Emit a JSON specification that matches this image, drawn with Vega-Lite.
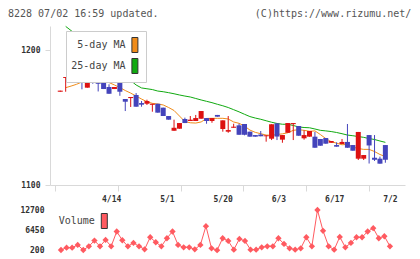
{
  "$schema": "https://vega.github.io/schema/vega-lite/v6.json",
  "padding": {"left": 8, "top": 8, "right": 5, "bottom": 5},
  "bounds": "flush",
  "spacing": 25,
  "background": "white",
  "title": {
    "text": "8228 07/02 16:59 updated.\u00a0\u00a0\u00a0\u00a0\u00a0\u00a0\u00a0\u00a0\u00a0\u00a0\u00a0\u00a0\u00a0\u00a0\u00a0\u00a0(C)https://www.rizumu.net/",
    "anchor": "start", "frame": "group", "dx": -42, "baseline": "alphabetic", "offset": -2.5,
    "font": "DejaVu Sans Mono", "fontSize": 10, "fontWeight": "normal", "color": "#555555"
  },
  "config": {
    "view": {"stroke": null},
    "axis": {"labelFlush": false, "grid": false, "format": "d", "labelFont": "DejaVu Sans Mono", "labelFontSize": 8, "labelFontWeight": "bold", "labelColor": "#333333", "domainColor": "#d9d9d9", "tickColor": "#d9d9d9"}
  },
  "resolve": {"scale": {"fill": "independent"}, "legend": {"fill": "independent"}},
  "datasets": {
    "ohlc": [
      {"i": -1, "o": 1169.1, "c": 1169.9, "h": 1169.9, "l": 1169.1, "m5": null, "m25": null, "v": null},
      {"i": 0, "o": 1179.3, "c": 1180.0, "h": 1180.0, "l": 1169.1, "m5": 1172.1, "m25": 1217.5, "v": 200},
      {"i": 1, "o": 1180.5, "c": 1176.5, "h": 1181.0, "l": 1176.0, "m5": 1173.3, "m25": 1214.4, "v": 935},
      {"i": 2, "o": 1179.3, "c": 1180.0, "h": 1180.0, "l": 1176.3, "m5": 1174.6, "m25": 1211.1, "v": 935},
      {"i": 3, "o": 1183.7, "c": 1179.5, "h": 1183.7, "l": 1170.9, "m5": 1176.3, "m25": 1207.8, "v": 1775},
      {"i": 4, "o": 1172.1, "c": 1180.0, "h": 1180.0, "l": 1172.1, "m5": 1177.3, "m25": 1204.4, "v": 200},
      {"i": 5, "o": 1180.0, "c": 1177.6, "h": 1180.0, "l": 1175.0, "m5": 1177.8, "m25": 1201.1, "v": 1355},
      {"i": 6, "o": 1178.3, "c": 1175.0, "h": 1178.5, "l": 1169.3, "m5": 1178.0, "m25": 1197.8, "v": 3140},
      {"i": 7, "o": 1177.0, "c": 1171.1, "h": 1178.3, "l": 1171.1, "m5": 1177.6, "m25": 1194.4, "v": 1355},
      {"i": 8, "o": 1172.6, "c": 1167.6, "h": 1174.6, "l": 1167.6, "m5": 1175.9, "m25": 1191.1, "v": 3350},
      {"i": 9, "o": 1171.1, "c": 1172.6, "h": 1172.6, "l": 1171.1, "m5": 1174.1, "m25": 1187.4, "v": 1355},
      {"i": 10, "o": 1175.6, "c": 1169.1, "h": 1175.6, "l": 1166.1, "m5": 1172.2, "m25": 1184.1, "v": 5975},
      {"i": 11, "o": 1163.7, "c": 1161.7, "h": 1163.7, "l": 1154.8, "m5": 1170.0, "m25": 1180.7, "v": 3245},
      {"i": 12, "o": 1164.4, "c": 1165.2, "h": 1165.2, "l": 1157.8, "m5": 1168.1, "m25": 1177.4, "v": 1355},
      {"i": 13, "o": 1166.7, "c": 1158.0, "h": 1168.1, "l": 1158.0, "m5": 1165.9, "m25": 1174.1, "v": 2405},
      {"i": 14, "o": 1160.7, "c": 1159.5, "h": 1162.2, "l": 1158.0, "m5": 1163.7, "m25": 1171.9, "v": 1355},
      {"i": 15, "o": 1160.2, "c": 1162.2, "h": 1163.2, "l": 1159.3, "m5": 1161.7, "m25": 1171.3, "v": 410},
      {"i": 16, "o": 1159.4, "c": 1160.2, "h": 1160.2, "l": 1154.3, "m5": 1160.5, "m25": 1170.7, "v": 4190},
      {"i": 17, "o": 1160.2, "c": 1153.6, "h": 1160.2, "l": 1153.6, "m5": 1160.0, "m25": 1169.6, "v": 2615},
      {"i": 18, "o": 1157.3, "c": 1151.1, "h": 1157.3, "l": 1151.1, "m5": 1159.3, "m25": 1169.1, "v": 1355},
      {"i": 19, "o": 1151.1, "c": 1148.4, "h": 1151.1, "l": 1148.4, "m5": 1157.4, "m25": 1168.4, "v": 3875},
      {"i": 20, "o": 1140.2, "c": 1142.4, "h": 1148.4, "l": 1140.2, "m5": 1155.2, "m25": 1167.6, "v": 5975},
      {"i": 21, "o": 1141.7, "c": 1145.9, "h": 1145.9, "l": 1141.7, "m5": 1151.1, "m25": 1166.7, "v": 1775},
      {"i": 22, "o": 1148.9, "c": 1145.9, "h": 1149.9, "l": 1145.9, "m5": 1147.0, "m25": 1165.9, "v": 1040},
      {"i": 23, "o": 1147.4, "c": 1148.4, "h": 1151.1, "l": 1147.4, "m5": 1146.1, "m25": 1165.2, "v": 1040},
      {"i": 24, "o": 1147.4, "c": 1149.6, "h": 1151.9, "l": 1147.4, "m5": 1145.9, "m25": 1164.1, "v": 410},
      {"i": 25, "o": 1149.1, "c": 1154.8, "h": 1154.8, "l": 1149.1, "m5": 1146.7, "m25": 1163.0, "v": 1775},
      {"i": 26, "o": 1149.6, "c": 1147.4, "h": 1149.6, "l": 1145.4, "m5": 1149.3, "m25": 1162.0, "v": 7655},
      {"i": 27, "o": 1147.4, "c": 1149.6, "h": 1149.6, "l": 1146.1, "m5": 1149.4, "m25": 1161.0, "v": 725},
      {"i": 28, "o": 1151.9, "c": 1150.6, "h": 1151.9, "l": 1150.6, "m5": 1149.4, "m25": 1159.8, "v": 150},
      {"i": 29, "o": 1141.5, "c": 1147.9, "h": 1147.9, "l": 1139.5, "m5": 1149.4, "m25": 1158.7, "v": 3875},
      {"i": 30, "o": 1139.5, "c": 1140.7, "h": 1151.1, "l": 1138.7, "m5": 1148.9, "m25": 1157.4, "v": 3035},
      {"i": 31, "o": 1142.4, "c": 1143.2, "h": 1145.4, "l": 1142.4, "m5": 1146.7, "m25": 1155.8, "v": 305},
      {"i": 32, "o": 1144.2, "c": 1137.2, "h": 1145.4, "l": 1137.2, "m5": 1145.7, "m25": 1154.2, "v": 3665},
      {"i": 33, "o": 1145.2, "c": 1137.2, "h": 1145.2, "l": 1136.8, "m5": 1143.7, "m25": 1152.4, "v": 3035},
      {"i": 34, "o": 1139.5, "c": 1135.8, "h": 1139.5, "l": 1135.8, "m5": 1140.7, "m25": 1150.7, "v": 305},
      {"i": 35, "o": 1137.0, "c": 1135.8, "h": 1137.0, "l": 1135.8, "m5": 1139.0, "m25": 1149.6, "v": 305},
      {"i": 36, "o": 1137.4, "c": 1136.1, "h": 1140.0, "l": 1136.1, "m5": 1138.0, "m25": 1148.7, "v": 1040},
      {"i": 37, "o": 1136.1, "c": 1136.8, "h": 1136.8, "l": 1132.1, "m5": 1137.0, "m25": 1147.6, "v": 1355},
      {"i": 38, "o": 1134.3, "c": 1145.0, "h": 1145.0, "l": 1133.3, "m5": 1136.8, "m25": 1146.5, "v": 1355},
      {"i": 39, "o": 1145.7, "c": 1135.9, "h": 1145.7, "l": 1133.3, "m5": 1137.4, "m25": 1145.6, "v": 3875},
      {"i": 40, "o": 1133.6, "c": 1137.0, "h": 1137.0, "l": 1131.3, "m5": 1137.9, "m25": 1145.0, "v": 2090},
      {"i": 41, "o": 1138.7, "c": 1145.9, "h": 1145.9, "l": 1138.7, "m5": 1138.7, "m25": 1145.0, "v": 725},
      {"i": 42, "o": 1145.1, "c": 1145.9, "h": 1145.9, "l": 1133.3, "m5": 1140.5, "m25": 1144.1, "v": 305},
      {"i": 43, "o": 1143.7, "c": 1136.5, "h": 1143.7, "l": 1136.5, "m5": 1141.0, "m25": 1143.0, "v": 725},
      {"i": 44, "o": 1134.6, "c": 1137.0, "h": 1140.5, "l": 1133.6, "m5": 1140.5, "m25": 1142.6, "v": 4190},
      {"i": 45, "o": 1135.8, "c": 1140.0, "h": 1140.0, "l": 1135.8, "m5": 1139.8, "m25": 1142.4, "v": 1355},
      {"i": 46, "o": 1135.8, "c": 1127.6, "h": 1139.3, "l": 1127.6, "m5": 1140.1, "m25": 1141.5, "v": 12700},
      {"i": 47, "o": 1134.1, "c": 1129.1, "h": 1134.1, "l": 1129.1, "m5": 1137.4, "m25": 1140.5, "v": 6185},
      {"i": 48, "o": 1134.8, "c": 1130.6, "h": 1134.8, "l": 1130.6, "m5": 1134.4, "m25": 1140.1, "v": 1355},
      {"i": 49, "o": 1131.3, "c": 1132.6, "h": 1132.6, "l": 1131.3, "m5": 1132.1, "m25": 1139.6, "v": 305},
      {"i": 50, "o": 1129.6, "c": 1128.4, "h": 1131.6, "l": 1128.4, "m5": 1131.0, "m25": 1138.9, "v": 4295},
      {"i": 51, "o": 1130.4, "c": 1131.9, "h": 1134.1, "l": 1130.4, "m5": 1129.8, "m25": 1138.0, "v": 1040},
      {"i": 52, "o": 1131.9, "c": 1127.6, "h": 1145.2, "l": 1127.6, "m5": 1130.1, "m25": 1137.0, "v": 2405},
      {"i": 53, "o": 1129.6, "c": 1125.4, "h": 1129.6, "l": 1125.4, "m5": 1128.1, "m25": 1136.5, "v": 4190},
      {"i": 54, "o": 1119.5, "c": 1139.3, "h": 1139.3, "l": 1118.5, "m5": 1127.0, "m25": 1135.9, "v": 4190},
      {"i": 55, "o": 1119.5, "c": 1122.2, "h": 1122.2, "l": 1118.5, "m5": 1126.4, "m25": 1135.3, "v": 5975},
      {"i": 56, "o": 1137.0, "c": 1129.3, "h": 1137.0, "l": 1115.9, "m5": 1126.4, "m25": 1134.4, "v": 7025},
      {"i": 57, "o": 1120.2, "c": 1118.7, "h": 1137.0, "l": 1117.8, "m5": 1124.8, "m25": 1133.7, "v": 3875},
      {"i": 58, "o": 1119.5, "c": 1115.8, "h": 1121.0, "l": 1115.8, "m5": 1122.6, "m25": 1132.6, "v": 4505},
      {"i": 59, "o": 1129.6, "c": 1118.7, "h": 1129.6, "l": 1116.5, "m5": 1121.1, "m25": 1131.6, "v": 1355}
    ],
    "leg1": [{"s": "5-day MA"}, {"s": "25-day MA"}],
    "leg2": [{"s": "Volume"}]
  },
  "vconcat": [
    {
      "width": 355,
      "height": 159,
      "layer": [
        {
          "data": {"name": "ohlc"},
          "mark": {"type": "line", "color": "#11aa11", "strokeWidth": 1},
          "encoding": {
            "x": {"field": "i", "type": "quantitative", "scale": {"domain": [-1.97, 61.7], "nice": false, "zero": false},
                  "axis": {"title": null, "values": [-1.97, 3.82, 9.62, 15.41, 21.2, 27.0, 32.79, 38.58, 44.37, 50.17, 55.96, 61.7], "labels": false, "tickSize": 6}},
            "y": {"field": "m25", "type": "quantitative", "scale": {"domain": [1100, 1217.8], "nice": false, "zero": false},
                  "axis": {"title": null, "values": [1100, 1200], "tickSize": 5, "labelPadding": 5}}
          }
        },
        {
          "data": {"name": "ohlc"},
          "mark": {"type": "line", "color": "#f08c1a", "strokeWidth": 1},
          "encoding": {
            "x": {"field": "i", "type": "quantitative"},
            "y": {"field": "m5", "type": "quantitative"}
          }
        },
        {
          "data": {"name": "ohlc"},
          "mark": {"type": "rule", "strokeWidth": 1},
          "encoding": {
            "x": {"field": "i", "type": "quantitative"},
            "y": {"field": "l", "type": "quantitative"},
            "y2": {"field": "h"},
            "color": {"condition": {"test": "datum.c >= datum.o", "value": "#dd1111"}, "value": "#4444bb"}
          }
        },
        {
          "data": {"name": "ohlc"},
          "mark": {"type": "bar", "width": 5, "orient": "vertical"},
          "encoding": {
            "x": {"field": "i", "type": "quantitative"},
            "y": {"field": "o", "type": "quantitative"},
            "y2": {"field": "c"},
            "color": {"condition": {"test": "datum.c >= datum.o", "value": "#dd1111"}, "value": "#4444bb"}
          }
        },
        {
          "data": {"name": "leg1"},
          "transform": [{"filter": "false"}],
          "mark": {"type": "square", "stroke": "#333333", "strokeWidth": 1},
          "encoding": {
            "fill": {"field": "s", "type": "nominal",
              "scale": {"domain": ["5-day MA", "25-day MA"], "range": ["#f08c1a", "#11aa11"]},
              "legend": {"title": null, "orient": "none", "legendX": 16, "legendY": 5, "padding": 6,
                "fillColor": "white", "strokeColor": "#cccccc", "direction": "vertical",
                "symbolType": "M-0.4,-1H0.4V1H-0.4Z", "symbolSize": 225,
                "symbolStrokeColor": "#333333", "symbolStrokeWidth": 1, "symbolOpacity": 1, "rowPadding": 1,
                "labelFont": "DejaVu Sans Mono", "labelFontSize": 10, "labelColor": "#444444", "labelLimit": 200,
                "encode": {
                  "symbols": {"update": {"x": {"value": 62.9}, "stroke": {"value": "#333333"}, "strokeWidth": {"value": 1}, "opacity": {"value": 1}}},
                  "labels": {"update": {"x": {"value": 53.5}, "align": {"value": "right"}}}
                }}
            }
          }
        }
      ]
    },
    {
      "width": 355,
      "height": 40,
      "layer": [
        {
          "data": {"name": "ohlc"},
          "mark": {"type": "line", "color": "#ff5a60", "strokeWidth": 1,
                   "point": {"shape": "diamond", "size": 40, "filled": true, "color": "#ff5a60"}},
          "encoding": {
            "x": {"field": "i", "type": "quantitative", "scale": {"domain": [-1.97, 61.7], "nice": false, "zero": false},
                  "axis": {"title": null, "orient": "top", "values": [9, 19, 29, 39, 49, 59], "domain": false, "ticks": false, "labelPadding": 6.5,
                           "labelExpr": "datum.value == 9 ? '4/14' : datum.value == 19 ? '5/1' : datum.value == 29 ? '5/20' : datum.value == 39 ? '6/3' : datum.value == 49 ? '6/17' : '7/2'"}},
            "y": {"field": "v", "type": "quantitative", "scale": {"domain": [200, 12700], "nice": false, "zero": false},
                  "axis": {"title": null, "values": [200, 6450, 12700], "domain": false, "ticks": false, "labelPadding": 6}}
          }
        },
        {
          "data": {"name": "leg2"},
          "transform": [{"filter": "false"}],
          "mark": {"type": "square", "stroke": "#333333", "strokeWidth": 1},
          "encoding": {
            "fill": {"field": "s", "type": "nominal",
              "scale": {"domain": ["Volume"], "range": ["#ff5a60"]},
              "legend": {"title": null, "orient": "none", "legendX": 8.7, "legendY": 3, "padding": 0,
                "symbolType": "M-0.4,-1H0.4V1H-0.4Z", "symbolSize": 225,
                "symbolStrokeColor": "#333333", "symbolStrokeWidth": 1, "symbolOpacity": 1,
                "labelFont": "DejaVu Sans Mono", "labelFontSize": 10, "labelColor": "#444444", "labelLimit": 200,
                "encode": {
                  "symbols": {"update": {"x": {"value": 45.6}, "stroke": {"value": "#333333"}, "strokeWidth": {"value": 1}, "opacity": {"value": 1}}},
                  "labels": {"update": {"x": {"value": 36.1}, "align": {"value": "right"}}}
                }}
            }
          }
        }
      ]
    }
  ]
}
